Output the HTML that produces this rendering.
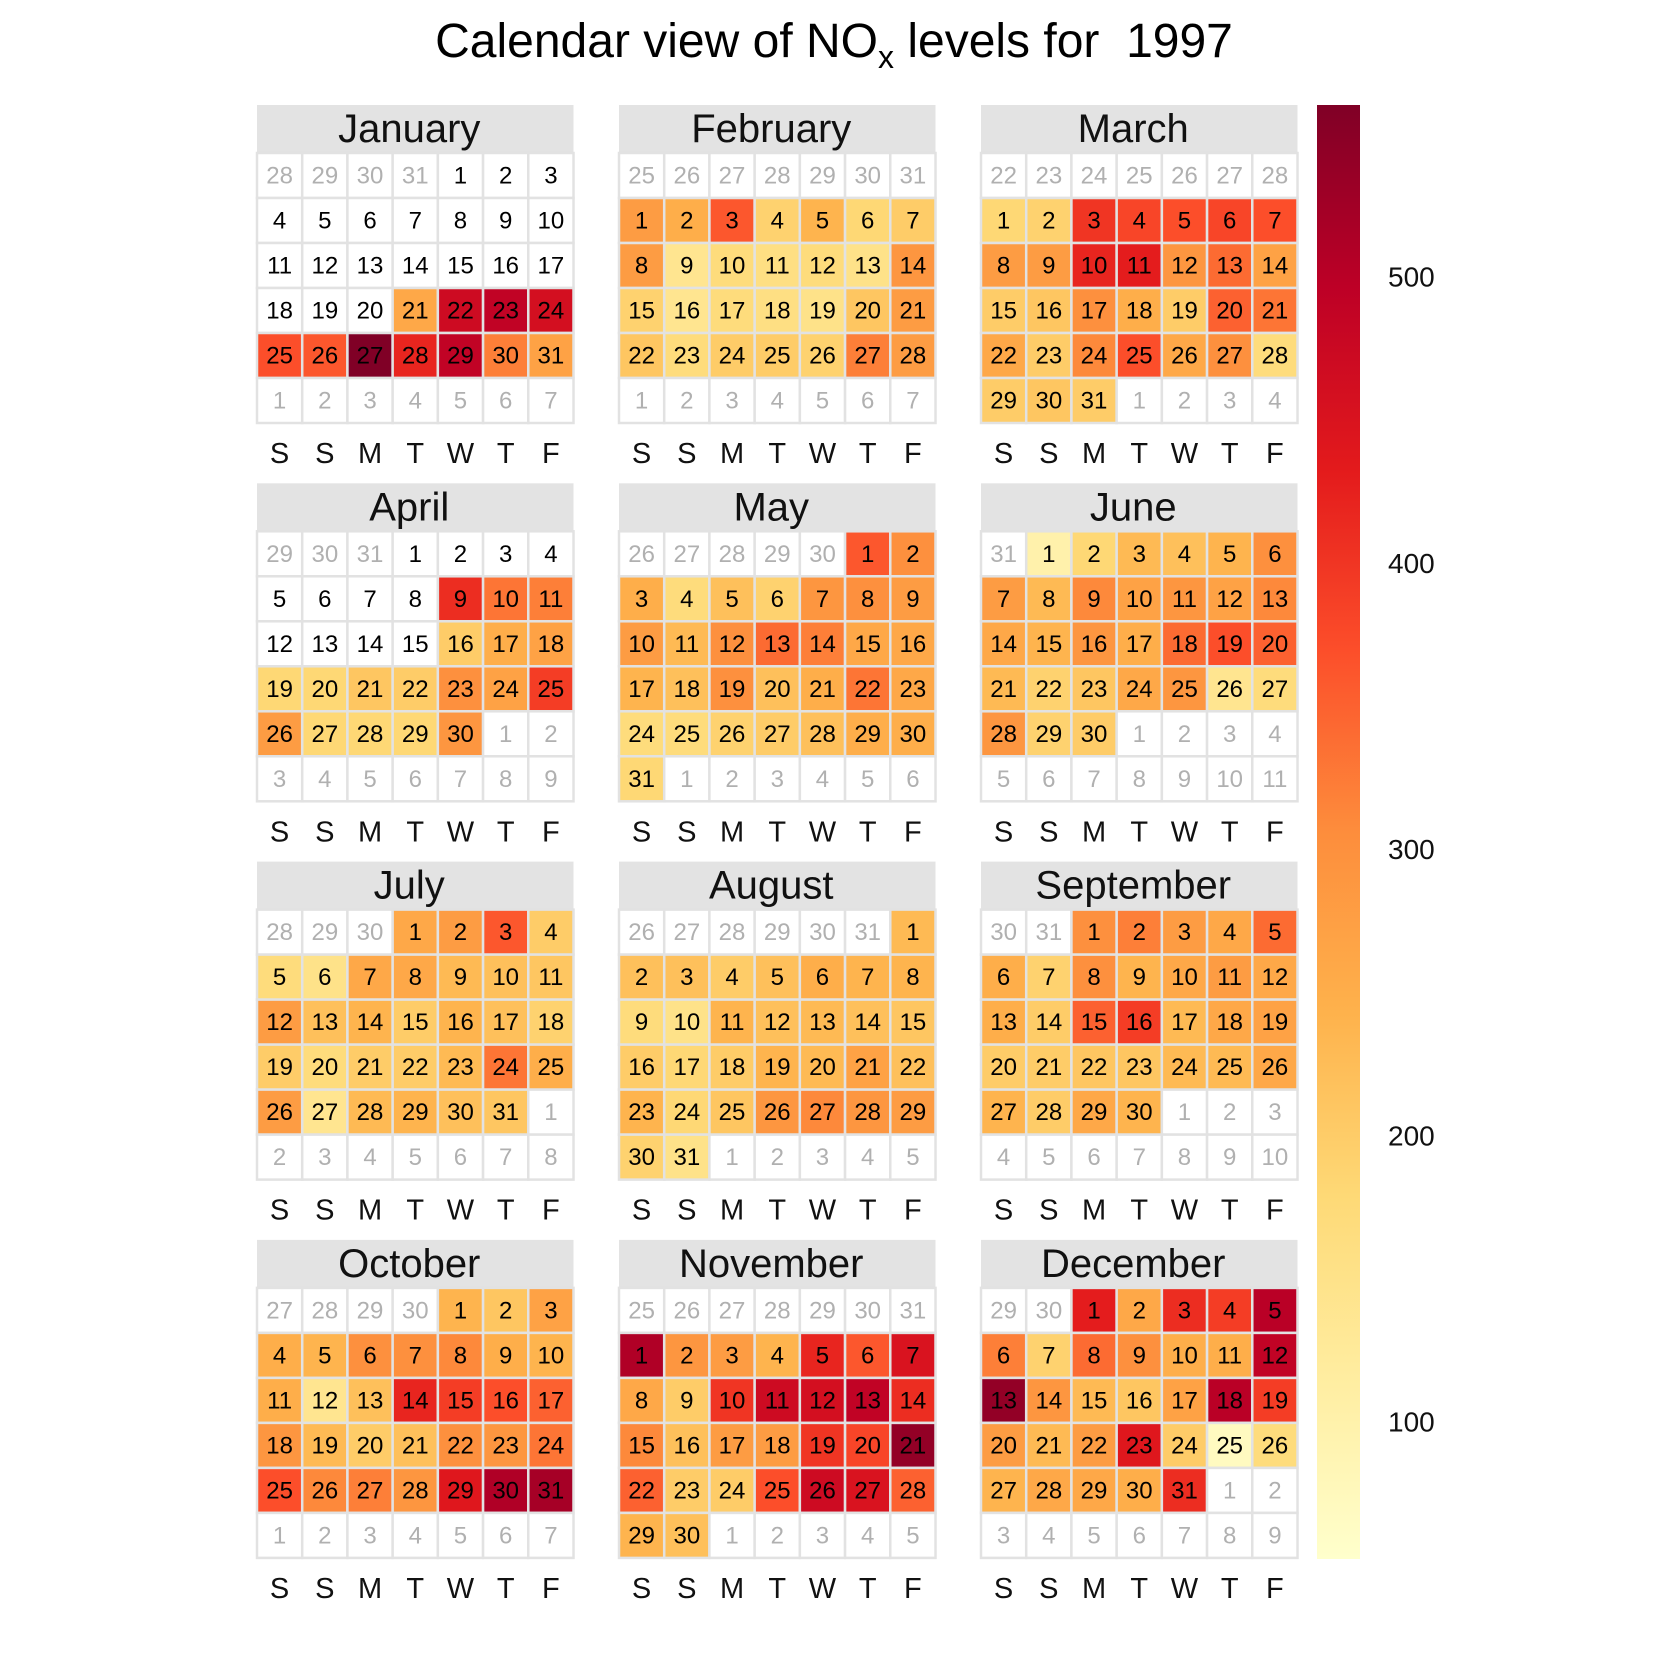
<!DOCTYPE html>
<html><head><meta charset="utf-8"><style>
html,body{margin:0;padding:0;background:#fff;}
svg{display:block;font-family:"Liberation Sans",Arial,sans-serif;}
</style></head><body>
<svg id="chart" width="1680" height="1680" viewBox="0 0 1680 1680" xmlns="http://www.w3.org/2000/svg">
<defs>
<linearGradient id="cbar" x1="0" y1="1" x2="0" y2="0">
<stop offset="0" stop-color="#ffffcc"/><stop offset="0.125" stop-color="#ffeda0"/><stop offset="0.25" stop-color="#fed976"/><stop offset="0.375" stop-color="#feb24c"/><stop offset="0.5" stop-color="#fd8d3c"/><stop offset="0.625" stop-color="#fc4e2a"/><stop offset="0.75" stop-color="#e31a1c"/><stop offset="0.875" stop-color="#bd0026"/><stop offset="1" stop-color="#800026"/>
</linearGradient>
</defs>
<text x="834" y="57" font-size="48" text-anchor="middle">Calendar view of NO<tspan font-size="32" dy="11">x</tspan><tspan dy="-11"> levels for&#160;&#160;1997</tspan></text>
<g id="panels"></g>
<g id="legend"></g>
</svg>
<script>
const monthNames=["January","February","March","April","May","June","July","August","September","October","November","December"];
const dayLetters=["S","S","M","T","W","T","F"];
const legendTicks=[100,200,300,400,500];
const vMin=52, vMax=560;
const N=null;
const jan=[N,N,N,N,N,N,N,N,N,N,N,N,N,N,N,N,N,N,N,N,260,470,490,460,370,360,560,420,490,320,270];
const feb=[280,250,360,190,240,180,200,280,140,170,160,170,150,290,190,140,170,160,150,210,280,210,170,200,200,190,320,280];
const mar=[180,190,400,380,370,380,370,280,280,420,430,290,340,270,200,210,300,250,200,350,330,260,200,310,370,260,300,170,200,210,200];
const apr=[N,N,N,N,N,N,N,N,410,330,320,N,N,N,N,200,250,270,180,180,210,200,300,270,390,280,180,180,180,290];
const may=[360,300,250,170,220,190,290,300,280,280,230,300,340,320,260,260,240,220,300,220,250,330,260,170,170,190,200,220,250,250,180];
const jun=[100,180,230,220,240,300,280,230,310,270,290,270,310,260,240,290,250,340,370,350,230,190,210,260,290,140,170,290,190,200];
const jul=[260,280,360,200,170,150,260,260,230,220,210,280,220,240,200,240,220,190,200,170,200,200,230,330,250,280,140,230,240,220,210];
const aug=[230,220,220,200,220,250,240,240,170,150,240,220,230,220,210,200,180,200,240,230,270,220,240,180,210,290,310,290,280,190,150];
const sep=[300,320,280,260,340,250,190,300,240,260,280,260,250,200,350,390,230,260,270,200,200,210,210,230,230,260,240,200,260,240];
const oct=[240,210,270,250,240,300,300,310,250,240,250,140,220,420,390,370,350,290,230,200,220,300,290,330,370,310,320,290,440,510,520];
const nov=[510,290,280,240,420,360,450,260,200,400,470,460,490,410,310,220,280,280,400,380,540,350,200,200,370,470,450,350,240,220];
const dec=[430,260,410,390,500,320,190,340,300,250,250,490,540,290,230,210,270,500,390,280,230,280,440,200,70,170,240,260,260,250,410];
const monthValues=[jan,feb,mar,apr,may,jun,jul,aug,sep,oct,nov,dec];

const stops=["#ffffcc","#ffeda0","#fed976","#feb24c","#fd8d3c","#fc4e2a","#e31a1c","#bd0026","#800026"];
function hex(c){return [1,3,5].map(i=>parseInt(c.substr(i,2),16));}
function colorOf(v){
  let t=(v-vMin)/(vMax-vMin); t=Math.max(0,Math.min(1,t));
  const p=t*(stops.length-1); const i=Math.min(stops.length-2,Math.floor(p)); const f=p-i;
  const a=hex(stops[i]), b=hex(stops[i+1]);
  return "rgb("+a.map((x,k)=>Math.round(x+(b[k]-x)*f)).join(",")+")";
}
const NS="http://www.w3.org/2000/svg";
function mk(tag,attrs,parent){const e=document.createElementNS(NS,tag);for(const k in attrs)e.setAttribute(k,attrs[k]);parent.appendChild(e);return e;}
const panels=document.getElementById("panels");
const colX=[257,619,981], rowY0=105, rowStep=378.3, pw=316.5, cw=pw/7, stripH=48, ch=45;
const dim=[31,28,31,30,31,30,31,31,30,31,30,31];
for(let m=0;m<12;m++){
  const px=colX[m%3], py=rowY0+Math.floor(m/3)*rowStep;
  const g=mk("g",{},panels);
  
  
  const strip=mk("rect",{x:px,y:py,width:pw,height:stripH,fill:"#e3e3e3"},g);
  
  
  const st=mk("text",{x:px+pw/2-6,y:py+37,"font-size":40,"text-anchor":"middle",fill:"#111"},g);
  st.textContent=monthNames[m];
  
  
  const first=new Date(1997,m,1).getDay();
  let col=(first+1)%7; let lead=col===0?7:col;
  const prevDays=m===0?31:dim[m-1];
  const gy=py+stripH;
  for(let k=0;k<42;k++){
    const r=Math.floor(k/7), c=k%7;
    const x=px+c*cw, y=gy+r*ch;
    let label, v=null, inMonth=false;
    if(k<lead){label=prevDays-lead+1+k;}
    else if(k-lead<dim[m]){label=k-lead+1;inMonth=true;v=monthValues[m][k-lead];}
    else{label=k-lead-dim[m]+1;}
    const fill=(inMonth&&v!=null)?colorOf(v):"#ffffff";
    const cell=mk("rect",{x:x,y:y,width:cw,height:ch,fill:fill,stroke:"#e2e2e2","stroke-width":2.5},g);
    
    
    const t=mk("text",{x:x+cw/2,y:y+ch/2+8,"font-size":24,"text-anchor":"middle",fill:inMonth?"#000":"#b0b0b0"},g);
    t.textContent=label;
    
    
  }
  for(let c=0;c<7;c++){
    const t=mk("text",{x:px+c*cw+cw/2,y:py+stripH+6*ch+40,"font-size":29,"text-anchor":"middle",fill:"#111"},g);
    t.textContent=dayLetters[c];
    
    
  }
}
const lg=document.getElementById("legend");
const barTop=105, barBot=1559, barX=1317, barW=43;
function yv(v){return barBot-(v-vMin)/(vMax-vMin)*(barBot-barTop);}
const bar=mk("rect",{x:barX,y:barTop,width:barW,height:barBot-barTop,fill:"url(#cbar)"},lg);


legendTicks.forEach(v=>{
  const t=mk("text",{x:1388,y:yv(v)+10,"font-size":28,fill:"#111"},lg);
  t.textContent=v;
  
  
});
</script>
</body></html>
